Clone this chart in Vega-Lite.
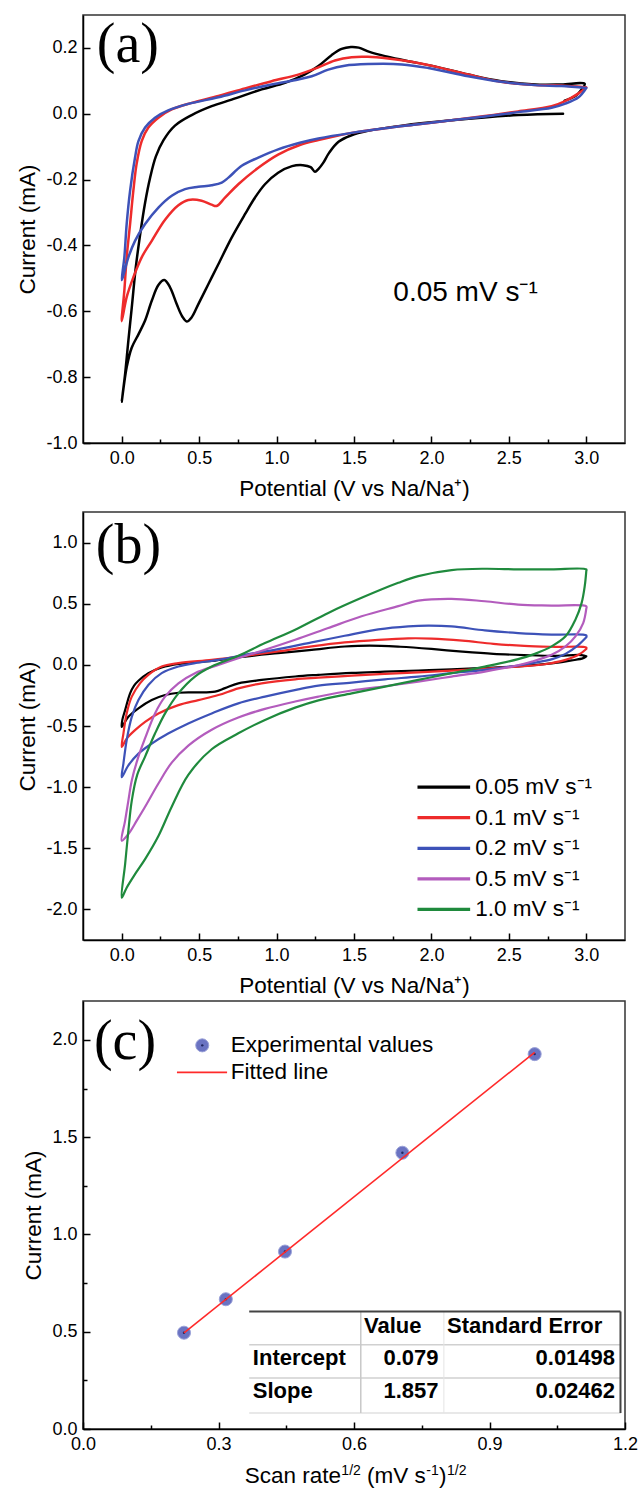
{
"$schema": "https://vega.github.io/schema/vega-lite/v6.json",
"background": "white",
"padding": {"left": 16, "top": 14, "right": 2, "bottom": 2},
"spacing": 2,
"resolve": {"scale": {"color": "independent"}},
"config": {
 "font": "Liberation Sans",
 "view": {"stroke": "#333333", "strokeWidth": 1.5},
 "axis": {"grid": false, "domainColor": "#000000", "domainWidth": 1.5, "tickColor": "#000000", "tickWidth": 1.5, "tickSize": -5,
  "labelFont": "Liberation Sans", "labelFontSize": 18, "labelColor": "#000000", "labelFlush": false, "labelOverlap": false, "labelBound": false,
  "titleFont": "Liberation Sans", "titleFontSize": 22.5, "titleFontWeight": "normal", "titleColor": "#000000"},
 "axisX": {"labelPadding": 13, "titlePadding": 7},
 "axisY": {"labelPadding": 13, "titlePadding": 6},
 "text": {"color": "#000000"}
},
"datasets": {
 "one": [{}],
 "A": [
  {"c":"1","i":1,"x":2.85,"y":0.0},{"c":"1","i":2,"x":2.56,"y":-0.004},{"c":"1","i":3,"x":2.13,"y":-0.02},{"c":"1","i":4,"x":1.81,"y":-0.036},{"c":"1","i":5,"x":1.59,"y":-0.052},{"c":"1","i":6,"x":1.48,"y":-0.066},{"c":"1","i":7,"x":1.40,"y":-0.085},{"c":"1","i":8,"x":1.34,"y":-0.118},{"c":"1","i":9,"x":1.30,"y":-0.15},{"c":"1","i":10,"x":1.27,"y":-0.168},{"c":"1","i":11,"x":1.248,"y":-0.176},{"c":"1","i":12,"x":1.22,"y":-0.162},{"c":"1","i":13,"x":1.17,"y":-0.156},{"c":"1","i":14,"x":1.10,"y":-0.159},{"c":"1","i":15,"x":1.01,"y":-0.179},{"c":"1","i":16,"x":0.925,"y":-0.214},{"c":"1","i":17,"x":0.86,"y":-0.255},{"c":"1","i":18,"x":0.796,"y":-0.305},{"c":"1","i":19,"x":0.71,"y":-0.376},{"c":"1","i":20,"x":0.624,"y":-0.457},{"c":"1","i":21,"x":0.56,"y":-0.517},{"c":"1","i":22,"x":0.495,"y":-0.578},{"c":"1","i":23,"x":0.452,"y":-0.618},{"c":"1","i":24,"x":0.42,"y":-0.631},{"c":"1","i":25,"x":0.39,"y":-0.615},{"c":"1","i":26,"x":0.355,"y":-0.578},{"c":"1","i":27,"x":0.312,"y":-0.527},{"c":"1","i":28,"x":0.275,"y":-0.505},{"c":"1","i":29,"x":0.237,"y":-0.52},{"c":"1","i":30,"x":0.194,"y":-0.568},{"c":"1","i":31,"x":0.151,"y":-0.628},{"c":"1","i":32,"x":0.108,"y":-0.67},{"c":"1","i":33,"x":0.065,"y":-0.71},{"c":"1","i":34,"x":0.032,"y":-0.77},{"c":"1","i":35,"x":0.0,"y":-0.875},{"c":"1","i":36,"x":0.022,"y":-0.79},{"c":"1","i":37,"x":0.043,"y":-0.689},{"c":"1","i":38,"x":0.065,"y":-0.588},{"c":"1","i":39,"x":0.09,"y":-0.47},{"c":"1","i":40,"x":0.118,"y":-0.37},{"c":"1","i":41,"x":0.151,"y":-0.27},{"c":"1","i":42,"x":0.183,"y":-0.195},{"c":"1","i":43,"x":0.22,"y":-0.13},{"c":"1","i":44,"x":0.27,"y":-0.08},{"c":"1","i":45,"x":0.344,"y":-0.036},{"c":"1","i":46,"x":0.452,"y":-0.004},{"c":"1","i":47,"x":0.581,"y":0.023},{"c":"1","i":48,"x":0.71,"y":0.043},{"c":"1","i":49,"x":0.904,"y":0.074},{"c":"1","i":50,"x":1.054,"y":0.094},{"c":"1","i":51,"x":1.18,"y":0.119},{"c":"1","i":52,"x":1.27,"y":0.145},{"c":"1","i":53,"x":1.355,"y":0.178},{"c":"1","i":54,"x":1.42,"y":0.197},{"c":"1","i":55,"x":1.48,"y":0.203},{"c":"1","i":56,"x":1.53,"y":0.201},{"c":"1","i":57,"x":1.6,"y":0.188},{"c":"1","i":58,"x":1.7,"y":0.175},{"c":"1","i":59,"x":1.83,"y":0.162},{"c":"1","i":60,"x":2.02,"y":0.144},{"c":"1","i":61,"x":2.24,"y":0.119},{"c":"1","i":62,"x":2.45,"y":0.099},{"c":"1","i":63,"x":2.67,"y":0.089},{"c":"1","i":64,"x":2.84,"y":0.089},{"c":"1","i":65,"x":2.99,"y":0.091},{"c":"1","i":66,"x":2.97,"y":0.074},{"c":"1","i":67,"x":2.93,"y":0.054},{"c":"1","i":68,"x":2.86,"y":0.04},
  {"c":"2","i":1,"x":3.0,"y":0.08},{"c":"2","i":2,"x":2.95,"y":0.062},{"c":"2","i":3,"x":2.86,"y":0.038},{"c":"2","i":4,"x":2.776,"y":0.023},{"c":"2","i":5,"x":2.56,"y":0.007},{"c":"2","i":6,"x":2.345,"y":-0.007},{"c":"2","i":7,"x":2.13,"y":-0.02},{"c":"2","i":8,"x":1.915,"y":-0.032},{"c":"2","i":9,"x":1.70,"y":-0.044},{"c":"2","i":10,"x":1.485,"y":-0.058},{"c":"2","i":11,"x":1.27,"y":-0.08},{"c":"2","i":12,"x":1.15,"y":-0.095},{"c":"2","i":13,"x":1.01,"y":-0.124},{"c":"2","i":14,"x":0.882,"y":-0.164},{"c":"2","i":15,"x":0.753,"y":-0.214},{"c":"2","i":16,"x":0.667,"y":-0.255},{"c":"2","i":17,"x":0.613,"y":-0.28},{"c":"2","i":18,"x":0.58,"y":-0.276},{"c":"2","i":19,"x":0.516,"y":-0.264},{"c":"2","i":20,"x":0.43,"y":-0.262},{"c":"2","i":21,"x":0.366,"y":-0.278},{"c":"2","i":22,"x":0.28,"y":-0.322},{"c":"2","i":23,"x":0.194,"y":-0.386},{"c":"2","i":24,"x":0.129,"y":-0.436},{"c":"2","i":25,"x":0.075,"y":-0.497},{"c":"2","i":26,"x":0.032,"y":-0.557},{"c":"2","i":27,"x":0.0,"y":-0.63},{"c":"2","i":28,"x":0.017,"y":-0.537},{"c":"2","i":29,"x":0.032,"y":-0.436},{"c":"2","i":30,"x":0.054,"y":-0.335},{"c":"2","i":31,"x":0.075,"y":-0.234},{"c":"2","i":32,"x":0.097,"y":-0.15},{"c":"2","i":33,"x":0.129,"y":-0.083},{"c":"2","i":34,"x":0.172,"y":-0.042},{"c":"2","i":35,"x":0.237,"y":-0.012},{"c":"2","i":36,"x":0.323,"y":0.013},{"c":"2","i":37,"x":0.452,"y":0.033},{"c":"2","i":38,"x":0.624,"y":0.054},{"c":"2","i":39,"x":0.796,"y":0.077},{"c":"2","i":40,"x":0.968,"y":0.099},{"c":"2","i":41,"x":1.14,"y":0.119},{"c":"2","i":42,"x":1.27,"y":0.141},{"c":"2","i":43,"x":1.377,"y":0.162},{"c":"2","i":44,"x":1.485,"y":0.172},{"c":"2","i":45,"x":1.59,"y":0.173},{"c":"2","i":46,"x":1.72,"y":0.168},{"c":"2","i":47,"x":1.872,"y":0.158},{"c":"2","i":48,"x":2.02,"y":0.144},{"c":"2","i":49,"x":2.238,"y":0.119},{"c":"2","i":50,"x":2.45,"y":0.097},{"c":"2","i":51,"x":2.67,"y":0.087},{"c":"2","i":52,"x":2.84,"y":0.086},{"c":"2","i":53,"x":3.0,"y":0.08},
  {"c":"3","i":1,"x":3.0,"y":0.078},{"c":"3","i":2,"x":2.95,"y":0.05},{"c":"3","i":3,"x":2.86,"y":0.03},{"c":"3","i":4,"x":2.776,"y":0.018},{"c":"3","i":5,"x":2.56,"y":0.005},{"c":"3","i":6,"x":2.345,"y":-0.008},{"c":"3","i":7,"x":2.13,"y":-0.02},{"c":"3","i":8,"x":1.915,"y":-0.032},{"c":"3","i":9,"x":1.70,"y":-0.044},{"c":"3","i":10,"x":1.485,"y":-0.058},{"c":"3","i":11,"x":1.27,"y":-0.075},{"c":"3","i":12,"x":1.15,"y":-0.088},{"c":"3","i":13,"x":1.01,"y":-0.108},{"c":"3","i":14,"x":0.882,"y":-0.133},{"c":"3","i":15,"x":0.775,"y":-0.158},{"c":"3","i":16,"x":0.689,"y":-0.194},{"c":"3","i":17,"x":0.646,"y":-0.209},{"c":"3","i":18,"x":0.581,"y":-0.217},{"c":"3","i":19,"x":0.495,"y":-0.222},{"c":"3","i":20,"x":0.409,"y":-0.229},{"c":"3","i":21,"x":0.323,"y":-0.249},{"c":"3","i":22,"x":0.237,"y":-0.285},{"c":"3","i":23,"x":0.151,"y":-0.335},{"c":"3","i":24,"x":0.086,"y":-0.386},{"c":"3","i":25,"x":0.043,"y":-0.436},{"c":"3","i":26,"x":0.011,"y":-0.49},{"c":"3","i":27,"x":0.0,"y":-0.505},{"c":"3","i":28,"x":0.017,"y":-0.436},{"c":"3","i":29,"x":0.032,"y":-0.335},{"c":"3","i":30,"x":0.054,"y":-0.234},{"c":"3","i":31,"x":0.086,"y":-0.133},{"c":"3","i":32,"x":0.108,"y":-0.083},{"c":"3","i":33,"x":0.151,"y":-0.042},{"c":"3","i":34,"x":0.215,"y":-0.012},{"c":"3","i":35,"x":0.30,"y":0.01},{"c":"3","i":36,"x":0.43,"y":0.03},{"c":"3","i":37,"x":0.624,"y":0.05},{"c":"3","i":38,"x":0.796,"y":0.071},{"c":"3","i":39,"x":0.968,"y":0.089},{"c":"3","i":40,"x":1.14,"y":0.104},{"c":"3","i":41,"x":1.227,"y":0.114},{"c":"3","i":42,"x":1.334,"y":0.134},{"c":"3","i":43,"x":1.44,"y":0.146},{"c":"3","i":44,"x":1.59,"y":0.151},{"c":"3","i":45,"x":1.81,"y":0.15},{"c":"3","i":46,"x":1.98,"y":0.139},{"c":"3","i":47,"x":2.238,"y":0.114},{"c":"3","i":48,"x":2.45,"y":0.097},{"c":"3","i":49,"x":2.67,"y":0.087},{"c":"3","i":50,"x":2.84,"y":0.084},{"c":"3","i":51,"x":3.0,"y":0.078}
 ],
 "B": [
  {"r":"0.05","i":1,"x":3.0,"y":0.07},{"r":"0.05","i":2,"x":2.98,"y":0.055},{"r":"0.05","i":3,"x":2.906,"y":0.036},{"r":"0.05","i":4,"x":2.776,"y":0.012},{"r":"0.05","i":5,"x":2.56,"y":-0.012},{"r":"0.05","i":6,"x":2.345,"y":-0.025},{"r":"0.05","i":7,"x":2.13,"y":-0.036},{"r":"0.05","i":8,"x":1.915,"y":-0.046},{"r":"0.05","i":9,"x":1.70,"y":-0.056},{"r":"0.05","i":10,"x":1.485,"y":-0.066},{"r":"0.05","i":11,"x":1.27,"y":-0.082},{"r":"0.05","i":12,"x":1.12,"y":-0.095},{"r":"0.05","i":13,"x":0.904,"y":-0.123},{"r":"0.05","i":14,"x":0.753,"y":-0.151},{"r":"0.05","i":15,"x":0.667,"y":-0.19},{"r":"0.05","i":16,"x":0.603,"y":-0.219},{"r":"0.05","i":17,"x":0.473,"y":-0.225},{"r":"0.05","i":18,"x":0.366,"y":-0.228},{"r":"0.05","i":19,"x":0.28,"y":-0.247},{"r":"0.05","i":20,"x":0.194,"y":-0.288},{"r":"0.05","i":21,"x":0.108,"y":-0.356},{"r":"0.05","i":22,"x":0.043,"y":-0.425},{"r":"0.05","i":23,"x":0.0,"y":-0.507},{"r":"0.05","i":24,"x":0.004,"y":-0.45},{"r":"0.05","i":25,"x":0.022,"y":-0.37},{"r":"0.05","i":26,"x":0.054,"y":-0.233},{"r":"0.05","i":27,"x":0.08,"y":-0.17},{"r":"0.05","i":28,"x":0.108,"y":-0.13},{"r":"0.05","i":29,"x":0.172,"y":-0.068},{"r":"0.05","i":30,"x":0.258,"y":-0.022},{"r":"0.05","i":31,"x":0.366,"y":0.008},{"r":"0.05","i":32,"x":0.581,"y":0.033},{"r":"0.05","i":33,"x":0.796,"y":0.068},{"r":"0.05","i":34,"x":1.01,"y":0.096},{"r":"0.05","i":35,"x":1.227,"y":0.123},{"r":"0.05","i":36,"x":1.44,"y":0.15},{"r":"0.05","i":37,"x":1.6,"y":0.158},{"r":"0.05","i":38,"x":1.8,"y":0.148},{"r":"0.05","i":39,"x":2.0,"y":0.13},{"r":"0.05","i":40,"x":2.2,"y":0.108},{"r":"0.05","i":41,"x":2.4,"y":0.09},{"r":"0.05","i":42,"x":2.6,"y":0.08},{"r":"0.05","i":43,"x":2.8,"y":0.074},{"r":"0.05","i":44,"x":2.97,"y":0.08},{"r":"0.05","i":45,"x":3.0,"y":0.07},
  {"r":"0.1","i":1,"x":3.0,"y":0.13},{"r":"0.1","i":2,"x":2.95,"y":0.082},{"r":"0.1","i":3,"x":2.866,"y":0.041},{"r":"0.1","i":4,"x":2.73,"y":0.005},{"r":"0.1","i":5,"x":2.56,"y":-0.014},{"r":"0.1","i":6,"x":2.345,"y":-0.03},{"r":"0.1","i":7,"x":2.13,"y":-0.047},{"r":"0.1","i":8,"x":1.915,"y":-0.061},{"r":"0.1","i":9,"x":1.70,"y":-0.074},{"r":"0.1","i":10,"x":1.485,"y":-0.088},{"r":"0.1","i":11,"x":1.27,"y":-0.105},{"r":"0.1","i":12,"x":1.12,"y":-0.118},{"r":"0.1","i":13,"x":0.904,"y":-0.151},{"r":"0.1","i":14,"x":0.753,"y":-0.192},{"r":"0.1","i":15,"x":0.624,"y":-0.247},{"r":"0.1","i":16,"x":0.495,"y":-0.288},{"r":"0.1","i":17,"x":0.366,"y":-0.329},{"r":"0.1","i":18,"x":0.237,"y":-0.397},{"r":"0.1","i":19,"x":0.151,"y":-0.466},{"r":"0.1","i":20,"x":0.086,"y":-0.534},{"r":"0.1","i":21,"x":0.032,"y":-0.603},{"r":"0.1","i":22,"x":0.0,"y":-0.671},{"r":"0.1","i":23,"x":0.011,"y":-0.562},{"r":"0.1","i":24,"x":0.032,"y":-0.397},{"r":"0.1","i":25,"x":0.065,"y":-0.26},{"r":"0.1","i":26,"x":0.118,"y":-0.151},{"r":"0.1","i":27,"x":0.172,"y":-0.082},{"r":"0.1","i":28,"x":0.258,"y":-0.014},{"r":"0.1","i":29,"x":0.366,"y":0.014},{"r":"0.1","i":30,"x":0.581,"y":0.041},{"r":"0.1","i":31,"x":0.796,"y":0.074},{"r":"0.1","i":32,"x":1.01,"y":0.11},{"r":"0.1","i":33,"x":1.227,"y":0.151},{"r":"0.1","i":34,"x":1.44,"y":0.184},{"r":"0.1","i":35,"x":1.657,"y":0.205},{"r":"0.1","i":36,"x":1.85,"y":0.217},{"r":"0.1","i":37,"x":2.0,"y":0.215},{"r":"0.1","i":38,"x":2.2,"y":0.198},{"r":"0.1","i":39,"x":2.4,"y":0.172},{"r":"0.1","i":40,"x":2.6,"y":0.155},{"r":"0.1","i":41,"x":2.8,"y":0.147},{"r":"0.1","i":42,"x":3.0,"y":0.142},{"r":"0.1","i":43,"x":3.0,"y":0.13},
  {"r":"0.2","i":1,"x":3.0,"y":0.225},{"r":"0.2","i":2,"x":2.95,"y":0.164},{"r":"0.2","i":3,"x":2.866,"y":0.09},{"r":"0.2","i":4,"x":2.78,"y":0.047},{"r":"0.2","i":5,"x":2.65,"y":0.014},{"r":"0.2","i":6,"x":2.56,"y":-0.005},{"r":"0.2","i":7,"x":2.345,"y":-0.041},{"r":"0.2","i":8,"x":2.13,"y":-0.068},{"r":"0.2","i":9,"x":1.915,"y":-0.096},{"r":"0.2","i":10,"x":1.70,"y":-0.118},{"r":"0.2","i":11,"x":1.485,"y":-0.145},{"r":"0.2","i":12,"x":1.27,"y":-0.17},{"r":"0.2","i":13,"x":1.14,"y":-0.2},{"r":"0.2","i":14,"x":0.925,"y":-0.26},{"r":"0.2","i":15,"x":0.753,"y":-0.315},{"r":"0.2","i":16,"x":0.581,"y":-0.397},{"r":"0.2","i":17,"x":0.43,"y":-0.479},{"r":"0.2","i":18,"x":0.30,"y":-0.562},{"r":"0.2","i":19,"x":0.194,"y":-0.644},{"r":"0.2","i":20,"x":0.108,"y":-0.726},{"r":"0.2","i":21,"x":0.043,"y":-0.822},{"r":"0.2","i":22,"x":0.0,"y":-0.918},{"r":"0.2","i":23,"x":0.011,"y":-0.808},{"r":"0.2","i":24,"x":0.032,"y":-0.616},{"r":"0.2","i":25,"x":0.065,"y":-0.425},{"r":"0.2","i":26,"x":0.108,"y":-0.288},{"r":"0.2","i":27,"x":0.172,"y":-0.164},{"r":"0.2","i":28,"x":0.258,"y":-0.068},{"r":"0.2","i":29,"x":0.366,"y":-0.014},{"r":"0.2","i":30,"x":0.473,"y":0.014},{"r":"0.2","i":31,"x":0.624,"y":0.041},{"r":"0.2","i":32,"x":0.796,"y":0.082},{"r":"0.2","i":33,"x":1.01,"y":0.129},{"r":"0.2","i":34,"x":1.227,"y":0.184},{"r":"0.2","i":35,"x":1.44,"y":0.238},{"r":"0.2","i":36,"x":1.657,"y":0.29},{"r":"0.2","i":37,"x":1.85,"y":0.315},{"r":"0.2","i":38,"x":1.98,"y":0.321},{"r":"0.2","i":39,"x":2.13,"y":0.315},{"r":"0.2","i":40,"x":2.345,"y":0.282},{"r":"0.2","i":41,"x":2.56,"y":0.26},{"r":"0.2","i":42,"x":2.776,"y":0.247},{"r":"0.2","i":43,"x":3.0,"y":0.241},{"r":"0.2","i":44,"x":3.0,"y":0.225},
  {"r":"0.5","i":1,"x":3.0,"y":0.46},{"r":"0.5","i":2,"x":2.98,"y":0.342},{"r":"0.5","i":3,"x":2.93,"y":0.233},{"r":"0.5","i":4,"x":2.866,"y":0.151},{"r":"0.5","i":5,"x":2.776,"y":0.082},{"r":"0.5","i":6,"x":2.65,"y":0.027},{"r":"0.5","i":7,"x":2.52,"y":-0.014},{"r":"0.5","i":8,"x":2.345,"y":-0.055},{"r":"0.5","i":9,"x":2.13,"y":-0.096},{"r":"0.5","i":10,"x":1.915,"y":-0.137},{"r":"0.5","i":11,"x":1.70,"y":-0.175},{"r":"0.5","i":12,"x":1.485,"y":-0.21},{"r":"0.5","i":13,"x":1.27,"y":-0.26},{"r":"0.5","i":14,"x":1.12,"y":-0.3},{"r":"0.5","i":15,"x":0.925,"y":-0.36},{"r":"0.5","i":16,"x":0.753,"y":-0.43},{"r":"0.5","i":17,"x":0.581,"y":-0.53},{"r":"0.5","i":18,"x":0.43,"y":-0.66},{"r":"0.5","i":19,"x":0.323,"y":-0.8},{"r":"0.5","i":20,"x":0.237,"y":-0.97},{"r":"0.5","i":21,"x":0.151,"y":-1.16},{"r":"0.5","i":22,"x":0.097,"y":-1.274},{"r":"0.5","i":23,"x":0.043,"y":-1.384},{"r":"0.5","i":24,"x":0.0,"y":-1.438},{"r":"0.5","i":25,"x":0.022,"y":-1.274},{"r":"0.5","i":26,"x":0.043,"y":-1.11},{"r":"0.5","i":27,"x":0.065,"y":-0.945},{"r":"0.5","i":28,"x":0.108,"y":-0.75},{"r":"0.5","i":29,"x":0.151,"y":-0.6},{"r":"0.5","i":30,"x":0.215,"y":-0.397},{"r":"0.5","i":31,"x":0.28,"y":-0.26},{"r":"0.5","i":32,"x":0.366,"y":-0.151},{"r":"0.5","i":33,"x":0.473,"y":-0.068},{"r":"0.5","i":34,"x":0.624,"y":0.0},{"r":"0.5","i":35,"x":0.753,"y":0.055},{"r":"0.5","i":36,"x":0.925,"y":0.123},{"r":"0.5","i":37,"x":1.12,"y":0.205},{"r":"0.5","i":38,"x":1.334,"y":0.301},{"r":"0.5","i":39,"x":1.549,"y":0.397},{"r":"0.5","i":40,"x":1.786,"y":0.48},{"r":"0.5","i":41,"x":1.915,"y":0.525},{"r":"0.5","i":42,"x":2.13,"y":0.54},{"r":"0.5","i":43,"x":2.345,"y":0.52},{"r":"0.5","i":44,"x":2.56,"y":0.493},{"r":"0.5","i":45,"x":2.776,"y":0.485},{"r":"0.5","i":46,"x":3.0,"y":0.479},{"r":"0.5","i":47,"x":3.0,"y":0.46},
  {"r":"1.0","i":1,"x":3.0,"y":0.767},{"r":"1.0","i":2,"x":2.99,"y":0.644},{"r":"1.0","i":3,"x":2.97,"y":0.507},{"r":"1.0","i":4,"x":2.93,"y":0.37},{"r":"1.0","i":5,"x":2.866,"y":0.233},{"r":"1.0","i":6,"x":2.776,"y":0.151},{"r":"1.0","i":7,"x":2.668,"y":0.09},{"r":"1.0","i":8,"x":2.56,"y":0.047},{"r":"1.0","i":9,"x":2.345,"y":-0.014},{"r":"1.0","i":10,"x":2.13,"y":-0.068},{"r":"1.0","i":11,"x":1.915,"y":-0.123},{"r":"1.0","i":12,"x":1.70,"y":-0.178},{"r":"1.0","i":13,"x":1.485,"y":-0.233},{"r":"1.0","i":14,"x":1.27,"y":-0.29},{"r":"1.0","i":15,"x":1.12,"y":-0.35},{"r":"1.0","i":16,"x":0.925,"y":-0.45},{"r":"1.0","i":17,"x":0.753,"y":-0.56},{"r":"1.0","i":18,"x":0.581,"y":-0.69},{"r":"1.0","i":19,"x":0.43,"y":-0.9},{"r":"1.0","i":20,"x":0.323,"y":-1.16},{"r":"1.0","i":21,"x":0.237,"y":-1.4},{"r":"1.0","i":22,"x":0.151,"y":-1.589},{"r":"1.0","i":23,"x":0.086,"y":-1.712},{"r":"1.0","i":24,"x":0.032,"y":-1.822},{"r":"1.0","i":25,"x":0.0,"y":-1.904},{"r":"1.0","i":26,"x":0.022,"y":-1.63},{"r":"1.0","i":27,"x":0.043,"y":-1.356},{"r":"1.0","i":28,"x":0.065,"y":-1.11},{"r":"1.0","i":29,"x":0.1,"y":-0.9},{"r":"1.0","i":30,"x":0.151,"y":-0.75},{"r":"1.0","i":31,"x":0.215,"y":-0.562},{"r":"1.0","i":32,"x":0.28,"y":-0.397},{"r":"1.0","i":33,"x":0.366,"y":-0.233},{"r":"1.0","i":34,"x":0.473,"y":-0.096},{"r":"1.0","i":35,"x":0.581,"y":-0.014},{"r":"1.0","i":36,"x":0.753,"y":0.074},{"r":"1.0","i":37,"x":0.925,"y":0.178},{"r":"1.0","i":38,"x":1.12,"y":0.288},{"r":"1.0","i":39,"x":1.334,"y":0.425},{"r":"1.0","i":40,"x":1.549,"y":0.548},{"r":"1.0","i":41,"x":1.786,"y":0.671},{"r":"1.0","i":42,"x":1.915,"y":0.726},{"r":"1.0","i":43,"x":2.13,"y":0.775},{"r":"1.0","i":44,"x":2.345,"y":0.786},{"r":"1.0","i":45,"x":2.56,"y":0.781},{"r":"1.0","i":46,"x":2.776,"y":0.781},{"r":"1.0","i":47,"x":3.0,"y":0.781},{"r":"1.0","i":48,"x":3.0,"y":0.767}
 ],
 "C": [
  {"x":0.2236,"y":0.495},{"x":0.3162,"y":0.667},{"x":0.4472,"y":0.912},{"x":0.7071,"y":1.42},{"x":1.0,"y":1.927}
 ],
 "F": [
  {"x":0.2236,"y":0.494},{"x":1.0,"y":1.936}
 ]
},
"vconcat": [
 {
  "width": 542, "height": 428,
  "layer": [
   {"data": {"name": "A"}, "mark": {"type": "line", "strokeWidth": 2.5, "strokeJoin": "round", "strokeCap": "round", "interpolate": "catmull-rom"},
    "encoding": {
     "x": {"field": "x", "type": "quantitative", "title": "Potential (V vs Na/Na\u207a)", "scale": {"domain": [-0.25, 3.25], "nice": false, "zero": false},
      "axis": {"values": [0,0.25,0.5,0.75,1,1.25,1.5,1.75,2,2.25,2.5,2.75,3], "labelExpr": "datum.value % 0.5 == 0 ? format(datum.value, '.1f') : ''",
       "tickSize": {"condition": {"test": "datum.value % 0.5 != 0", "value": -4}, "value": -7}}},
     "y": {"field": "y", "type": "quantitative", "title": "Current (mA)", "scale": {"domain": [-1.0, 0.3], "nice": false, "zero": false},
      "axis": {"values": [-1.0,-0.9,-0.8,-0.7,-0.6,-0.5,-0.4,-0.3,-0.2,-0.1,0,0.1,0.2], "labelExpr": "round(datum.value*10) % 2 == 0 ? (datum.value < -0.001 ? '-' : '') + format(abs(datum.value), '.1f') : ''",
       "tickSize": {"condition": {"test": "round(datum.value*10) % 2 != 0", "value": -4}, "value": -7}}},
     "color": {"field": "c", "type": "nominal", "scale": {"domain": ["1","2","3"], "range": ["#000000", "#ee2b2b", "#3d52b8"]}, "legend": null},
     "order": {"field": "i", "type": "quantitative"}
    }},
   {"data": {"name": "one"}, "mark": {"type": "text", "font": "Liberation Serif", "fontSize": 56, "align": "center", "baseline": "middle"},
    "encoding": {"x": {"datum": 0.04}, "y": {"datum": 0.208}, "text": {"value": "(a)"}}},
   {"data": {"name": "one"}, "mark": {"type": "text", "fontSize": 28, "align": "left", "baseline": "alphabetic"},
    "encoding": {"x": {"datum": 1.754}, "y": {"datum": -0.568}, "text": {"value": "0.05 mV s\u207b\u00b9"}}}
  ]
 },
 {
  "width": 542, "height": 428,
  "layer": [
   {"data": {"name": "B"}, "mark": {"type": "line", "strokeWidth": 2.2, "strokeJoin": "round", "strokeCap": "round", "interpolate": "catmull-rom"},
    "encoding": {
     "x": {"field": "x", "type": "quantitative", "title": "Potential (V vs Na/Na\u207a)", "scale": {"domain": [-0.25, 3.25], "nice": false, "zero": false},
      "axis": {"values": [0,0.25,0.5,0.75,1,1.25,1.5,1.75,2,2.25,2.5,2.75,3], "labelExpr": "datum.value % 0.5 == 0 ? format(datum.value, '.1f') : ''",
       "tickSize": {"condition": {"test": "datum.value % 0.5 != 0", "value": -4}, "value": -7}}},
     "y": {"field": "y", "type": "quantitative", "title": "Current (mA)", "scale": {"domain": [-2.25, 1.25], "nice": false, "zero": false},
      "axis": {"values": [-2,-1.75,-1.5,-1.25,-1,-0.75,-0.5,-0.25,0,0.25,0.5,0.75,1], "labelExpr": "datum.value % 0.5 == 0 ? (datum.value < -0.001 ? '-' : '') + format(abs(datum.value), '.1f') : ''",
       "tickSize": {"condition": {"test": "datum.value % 0.5 != 0", "value": -4}, "value": -7}}},
     "color": {"field": "r", "type": "nominal", "scale": {"domain": ["0.05","0.1","0.2","0.5","1.0"], "range": ["#000000", "#ee2b2b", "#3d52b8", "#b35cbd", "#1f8a3d"]}, "legend": null},
     "order": {"field": "i", "type": "quantitative"}
    }},
   {"data": {"name": "one"}, "mark": {"type": "rule", "strokeOpacity": 0, "clip": false}, "encoding": {"x": {"datum": 0}, "y": {"datum": 1.25}, "y2": {"datum": 1.31}}},
   {"data": {"name": "one"}, "mark": {"type": "text", "font": "Liberation Serif", "fontSize": 56, "align": "center", "baseline": "middle"},
    "encoding": {"x": {"datum": 0.043}, "y": {"datum": 0.972}, "text": {"value": "(b)"}}},
   {"data": {"name": "one"}, "mark": {"type": "rule", "strokeWidth": 3.2, "color": "#000000"}, "encoding": {"x": {"datum": 1.91}, "x2": {"datum": 2.25}, "y": {"datum": -1.0}}},
   {"data": {"name": "one"}, "mark": {"type": "rule", "strokeWidth": 3.2, "color": "#ee2b2b"}, "encoding": {"x": {"datum": 1.91}, "x2": {"datum": 2.25}, "y": {"datum": -1.25}}},
   {"data": {"name": "one"}, "mark": {"type": "rule", "strokeWidth": 3.2, "color": "#3d52b8"}, "encoding": {"x": {"datum": 1.91}, "x2": {"datum": 2.25}, "y": {"datum": -1.5}}},
   {"data": {"name": "one"}, "mark": {"type": "rule", "strokeWidth": 3.2, "color": "#b35cbd"}, "encoding": {"x": {"datum": 1.91}, "x2": {"datum": 2.25}, "y": {"datum": -1.75}}},
   {"data": {"name": "one"}, "mark": {"type": "rule", "strokeWidth": 3.2, "color": "#1f8a3d"}, "encoding": {"x": {"datum": 1.91}, "x2": {"datum": 2.25}, "y": {"datum": -2.0}}},
   {"data": {"name": "one"}, "mark": {"type": "text", "fontSize": 22.5, "align": "left", "baseline": "middle"}, "encoding": {"x": {"datum": 2.283}, "y": {"datum": -1.0}, "text": {"value": "0.05 mV s\u207b\u00b9"}}},
   {"data": {"name": "one"}, "mark": {"type": "text", "fontSize": 22.5, "align": "left", "baseline": "middle"}, "encoding": {"x": {"datum": 2.283}, "y": {"datum": -1.25}, "text": {"value": "0.1 mV s\u207b\u00b9"}}},
   {"data": {"name": "one"}, "mark": {"type": "text", "fontSize": 22.5, "align": "left", "baseline": "middle"}, "encoding": {"x": {"datum": 2.283}, "y": {"datum": -1.5}, "text": {"value": "0.2 mV s\u207b\u00b9"}}},
   {"data": {"name": "one"}, "mark": {"type": "text", "fontSize": 22.5, "align": "left", "baseline": "middle"}, "encoding": {"x": {"datum": 2.283}, "y": {"datum": -1.75}, "text": {"value": "0.5 mV s\u207b\u00b9"}}},
   {"data": {"name": "one"}, "mark": {"type": "text", "fontSize": 22.5, "align": "left", "baseline": "middle"}, "encoding": {"x": {"datum": 2.283}, "y": {"datum": -2.0}, "text": {"value": "1.0 mV s\u207b\u00b9"}}}
  ]
 },
 {
  "width": 542, "height": 428,
  "layer": [
   {"data": {"name": "C"}, "mark": {"type": "point", "filled": true, "shape": "circle", "size": 170, "color": "#6a73c2", "stroke": "#9aa1d8", "strokeWidth": 1, "opacity": 1},
    "encoding": {
     "x": {"field": "x", "type": "quantitative", "title": null, "scale": {"domain": [0, 1.2], "nice": false, "zero": false},
      "axis": {"title": null, "values": [0,0.15,0.3,0.45,0.6,0.75,0.9,1.05,1.2], "labelExpr": "round(datum.value/0.15) % 2 == 0 ? format(datum.value, '.1f') : ''",
       "tickSize": {"condition": {"test": "round(datum.value/0.15) % 2 != 0", "value": -4}, "value": -7}}},
     "y": {"field": "y", "type": "quantitative", "title": "Current (mA)", "scale": {"domain": [0, 2.2], "nice": false, "zero": false},
      "axis": {"values": [0,0.25,0.5,0.75,1,1.25,1.5,1.75,2], "labelExpr": "datum.value % 0.5 == 0 ? format(datum.value, '.1f') : ''",
       "tickSize": {"condition": {"test": "datum.value % 0.5 != 0", "value": -4}, "value": -7}}}
    }},
   {"data": {"name": "C"}, "mark": {"type": "point", "filled": true, "shape": "circle", "size": 6, "color": "#202660", "opacity": 1},
    "encoding": {"x": {"field": "x", "type": "quantitative"}, "y": {"field": "y", "type": "quantitative"}}},
   {"data": {"name": "F"}, "mark": {"type": "line", "color": "#ff2a2a", "strokeWidth": 1.6},
    "encoding": {"x": {"field": "x", "type": "quantitative"}, "y": {"field": "y", "type": "quantitative"}}},
   {"data": {"name": "one"}, "mark": {"type": "text", "font": "Liberation Serif", "fontSize": 56, "align": "center", "baseline": "middle"},
    "encoding": {"x": {"datum": 0.093}, "y": {"datum": 1.987}, "text": {"value": "(c)"}}},
   {"data": {"name": "one"}, "mark": {"type": "point", "filled": true, "shape": "circle", "size": 170, "color": "#6a73c2", "stroke": "#9aa1d8", "strokeWidth": 1, "opacity": 1},
    "encoding": {"x": {"datum": 0.264}, "y": {"datum": 1.972}}},
   {"data": {"name": "one"}, "mark": {"type": "point", "filled": true, "shape": "circle", "size": 6, "color": "#202660", "opacity": 1},
    "encoding": {"x": {"datum": 0.264}, "y": {"datum": 1.972}}},
   {"data": {"name": "one"}, "mark": {"type": "text", "fontSize": 22.5, "align": "left", "baseline": "middle"}, "encoding": {"x": {"datum": 0.327}, "y": {"datum": 1.972}, "text": {"value": "Experimental values"}}},
   {"data": {"name": "one"}, "mark": {"type": "rule", "strokeWidth": 1.6, "color": "#ff2a2a"}, "encoding": {"x": {"datum": 0.208}, "x2": {"datum": 0.319}, "y": {"datum": 1.833}}},
   {"data": {"name": "one"}, "mark": {"type": "text", "fontSize": 22.5, "align": "left", "baseline": "middle"}, "encoding": {"x": {"datum": 0.327}, "y": {"datum": 1.833}, "text": {"value": "Fitted line"}}},
   {"data": {"name": "one"}, "mark": {"type": "rule", "strokeWidth": 1.5, "color": "#d0d0d0"}, "encoding": {"x": {"datum": 0.368}, "x2": {"datum": 1.19}, "y": {"datum": 0.433}}},
   {"data": {"name": "one"}, "mark": {"type": "rule", "strokeWidth": 1.5, "color": "#d0d0d0"}, "encoding": {"x": {"datum": 0.368}, "x2": {"datum": 1.19}, "y": {"datum": 0.262}}},
   {"data": {"name": "one"}, "mark": {"type": "rule", "strokeWidth": 1.5, "color": "#e0e0e0"}, "encoding": {"x": {"datum": 0.368}, "x2": {"datum": 1.19}, "y": {"datum": 0.082}}},
   {"data": {"name": "one"}, "mark": {"type": "rule", "strokeWidth": 1.5, "color": "#c8c8c8"}, "encoding": {"x": {"datum": 0.615}, "y": {"datum": 0.604}, "y2": {"datum": 0.082}}},
   {"data": {"name": "one"}, "mark": {"type": "rule", "strokeWidth": 1, "color": "#e4e4e4"}, "encoding": {"x": {"datum": 0.799}, "y": {"datum": 0.604}, "y2": {"datum": 0.082}}},
   {"data": {"name": "one"}, "mark": {"type": "rule", "strokeWidth": 2, "color": "#444444"}, "encoding": {"x": {"datum": 0.368}, "x2": {"datum": 1.19}, "y": {"datum": 0.604}}},
   {"data": {"name": "one"}, "mark": {"type": "rule", "strokeWidth": 2, "color": "#444444"}, "encoding": {"x": {"datum": 1.19}, "y": {"datum": 0.604}, "y2": {"datum": 0.082}}},
   {"data": {"name": "one"}, "mark": {"type": "text", "fontSize": 22, "fontWeight": "bold", "align": "left", "baseline": "middle"}, "encoding": {"x": {"datum": 0.622}, "y": {"datum": 0.527}, "text": {"value": "Value"}}},
   {"data": {"name": "one"}, "mark": {"type": "text", "fontSize": 22, "fontWeight": "bold", "align": "left", "baseline": "middle"}, "encoding": {"x": {"datum": 0.806}, "y": {"datum": 0.527}, "text": {"value": "Standard Error"}}},
   {"data": {"name": "one"}, "mark": {"type": "text", "fontSize": 22, "fontWeight": "bold", "align": "left", "baseline": "middle"}, "encoding": {"x": {"datum": 0.376}, "y": {"datum": 0.364}, "text": {"value": "Intercept"}}},
   {"data": {"name": "one"}, "mark": {"type": "text", "fontSize": 22, "fontWeight": "bold", "align": "right", "baseline": "middle"}, "encoding": {"x": {"datum": 0.787}, "y": {"datum": 0.364}, "text": {"value": "0.079"}}},
   {"data": {"name": "one"}, "mark": {"type": "text", "fontSize": 22, "fontWeight": "bold", "align": "right", "baseline": "middle"}, "encoding": {"x": {"datum": 1.178}, "y": {"datum": 0.364}, "text": {"value": "0.01498"}}},
   {"data": {"name": "one"}, "mark": {"type": "text", "fontSize": 22, "fontWeight": "bold", "align": "left", "baseline": "middle"}, "encoding": {"x": {"datum": 0.376}, "y": {"datum": 0.193}, "text": {"value": "Slope"}}},
   {"data": {"name": "one"}, "mark": {"type": "text", "fontSize": 22, "fontWeight": "bold", "align": "right", "baseline": "middle"}, "encoding": {"x": {"datum": 0.787}, "y": {"datum": 0.193}, "text": {"value": "1.857"}}},
   {"data": {"name": "one"}, "mark": {"type": "text", "fontSize": 22, "fontWeight": "bold", "align": "right", "baseline": "middle"}, "encoding": {"x": {"datum": 1.178}, "y": {"datum": 0.193}, "text": {"value": "0.02462"}}},
   {"data": {"name": "one"}, "mark": {"type": "text", "fontSize": 22.5, "align": "left", "baseline": "alphabetic"}, "encoding": {"x": {"datum": 0.358}, "y": {"datum": -0.277}, "text": {"value": "Scan rate"}}},
   {"data": {"name": "one"}, "mark": {"type": "text", "fontSize": 14, "align": "left", "baseline": "alphabetic"}, "encoding": {"x": {"datum": 0.572}, "y": {"datum": -0.236}, "text": {"value": "1/2"}}},
   {"data": {"name": "one"}, "mark": {"type": "text", "fontSize": 22.5, "align": "left", "baseline": "alphabetic"}, "encoding": {"x": {"datum": 0.629}, "y": {"datum": -0.277}, "text": {"value": "(mV s"}}},
   {"data": {"name": "one"}, "mark": {"type": "text", "fontSize": 14, "align": "left", "baseline": "alphabetic"}, "encoding": {"x": {"datum": 0.76}, "y": {"datum": -0.236}, "text": {"value": "-1"}}},
   {"data": {"name": "one"}, "mark": {"type": "text", "fontSize": 22.5, "align": "left", "baseline": "alphabetic"}, "encoding": {"x": {"datum": 0.788}, "y": {"datum": -0.277}, "text": {"value": ")"}}},
   {"data": {"name": "one"}, "mark": {"type": "text", "fontSize": 14, "align": "left", "baseline": "alphabetic"}, "encoding": {"x": {"datum": 0.806}, "y": {"datum": -0.236}, "text": {"value": "1/2"}}}
  ]
 }
]
}
